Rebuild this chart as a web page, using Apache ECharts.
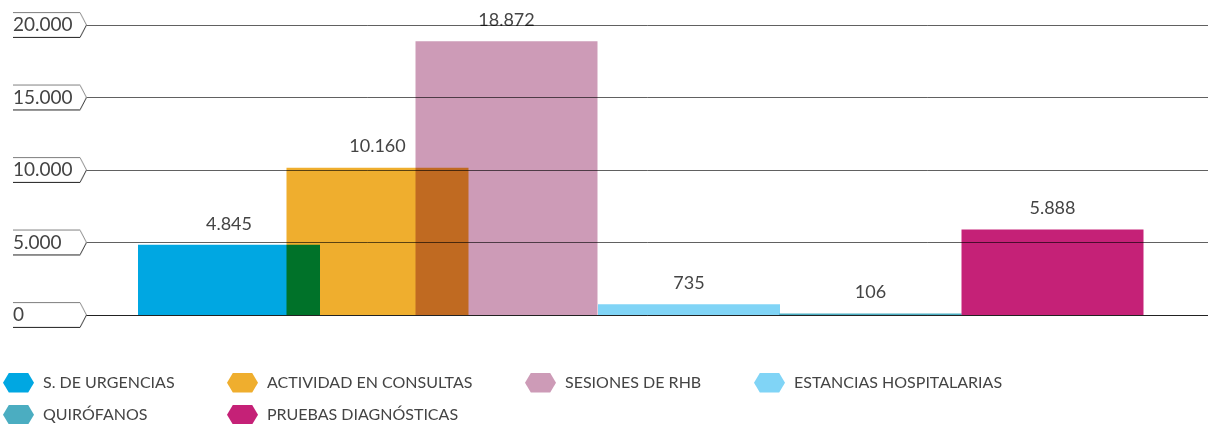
<!DOCTYPE html>
<html>
<head>
<meta charset="utf-8">
<script src="https://cdn.jsdelivr.net/npm/echarts@6/dist/echarts.min.js"></script>
<style>
	html, body { margin: 0; padding: 0; background: #fff; }
	#chart { width: 1208px; height: 424px; }
</style>
</head>
<body>
<div id="chart"></div>
<script>
// datos
const categorias = ['S. DE URGENCIAS', 'ACTIVIDAD EN CONSULTAS', 'SESIONES DE RHB', 'ESTANCIAS HOSPITALARIAS', 'QUIRÓFANOS', 'PRUEBAS DIAGNÓSTICAS'];
const valores = [4845, 10160, 18872, 735, 106, 5888];
const ejeY = [0, 5000, 10000, 15000, 20000];

// layout (centro de cada barra en px desde la izquierda del grid)
const posiciones = [142, 290.5, 419.5, 602, 783.5, 965.5];
const colores = ['#00a7e2', '#efae2e', '#cd9bb7', '#80d4f6', '#4badc1', '#c52177'];
// posicion de cada elemento de la leyenda [left, top]
const posLeyenda = [[3, 373], [227, 373], [525, 373], [754, 373], [3, 405], [227, 405]];

const fmt = v => String(v).replace(/\B(?=(\d{3})+(?!\d))/g, '.');

// etiqueta tipo "flecha" del eje Y
function crearEtiqueta() {
	let c = document.createElement('canvas');
	c.width = 74; c.height = 24;
	let ctx = c.getContext('2d');
	ctx.lineWidth = 1;
	ctx.strokeStyle = '#8a8a8a';
	ctx.beginPath();
	ctx.moveTo(0, 0.5); ctx.lineTo(67, 0.5); ctx.lineTo(73.5, 12);
	ctx.stroke();
	ctx.strokeStyle = '#333';
	ctx.beginPath();
	ctx.moveTo(73.5, 12); ctx.lineTo(67, 23.5); ctx.lineTo(0, 23.5);
	ctx.stroke();
	return c;
}

const fuente = 'Lato, "Open Sans", sans-serif';
const hexagono = 'path://M0,10 L6,0 L26,0 L32,10 L26,20 L6,20 Z';

let chart = echarts.init(document.getElementById('chart'));

let series = categorias.map((nombre, i) => ({
	name: nombre,
	type: 'bar',
	barWidth: 182,
	barGap: '-100%',
	blendMode: 'multiply',
	itemStyle: { color: colores[i] },
	label: {
		show: true,
		position: 'top',
		distance: 12,
		color: '#444',
		fontSize: 18,
		fontFamily: fuente,
		formatter: p => fmt(p.value[1])
	},
	data: [[posiciones[i], valores[i]]]
}));

const option = {
	animation: false,
	grid: { left: 87, right: 0, top: 25, bottom: 109 },
	legend: categorias.map((nombre, i) => ({
		left: posLeyenda[i][0],
		top: posLeyenda[i][1],
		padding: 0,
		itemWidth: 31,
		itemHeight: 20,
		icon: hexagono,
		selectedMode: false,
		textStyle: { color: '#444', fontSize: 16, fontFamily: fuente, padding: [0, 0, 0, 4] },
		data: [nombre]
	})),
	xAxis: {
		type: 'value',
		min: 0,
		max: 1121,
		z: 5,
		axisLine: { show: true, lineStyle: { color: '#222', width: 1 } },
		axisTick: { show: false },
		axisLabel: { show: false },
		splitLine: { show: false }
	},
	yAxis: {
		type: 'value',
		min: ejeY[0],
		max: ejeY[ejeY.length - 1],
		interval: 5000,
		z: 4,
		axisLine: { show: false },
		axisTick: { show: false },
		splitLine: { lineStyle: { color: 'rgba(0,0,0,0.62)', width: 1 } },
		axisLabel: {
			align: 'left',
			margin: 74,
			width: 74,
			height: 24,
			padding: [2, 0, 0, 0],
			color: '#444',
			fontSize: 19,
			fontFamily: fuente,
			backgroundColor: { image: crearEtiqueta() },
			formatter: v => fmt(v)
		}
	},
	series: series
};
chart.setOption(option);
window.addEventListener('resize', () => {
	chart.resize();
});
</script>
</body>
</html>
